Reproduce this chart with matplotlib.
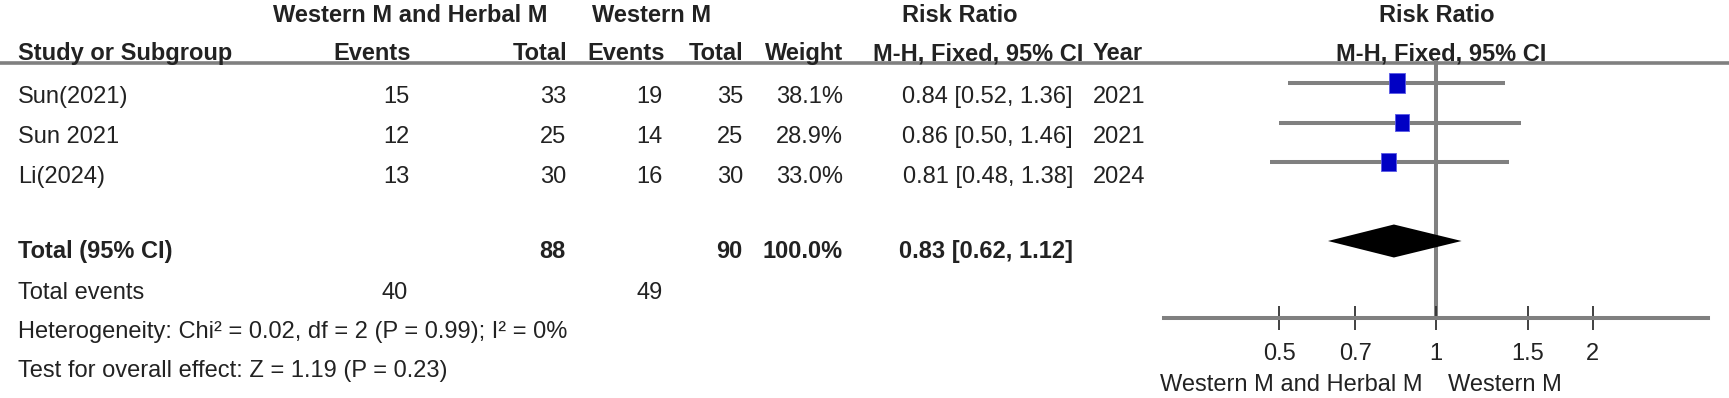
import matplotlib
matplotlib.use("Agg")
import matplotlib.pyplot as plt
from matplotlib.path import Path
from matplotlib.markers import MarkerStyle
import numpy as np

# study data
studies = ["Sun(2021)", "Sun 2021", "Li(2024)"]
exp_events = [15, 12, 13]
exp_total = [33, 25, 30]
ctl_events = [19, 14, 16]
ctl_total = [35, 25, 30]
weights = [38.1, 28.9, 33.0]
rr = [0.84, 0.86, 0.81]
ci_lo = [0.52, 0.50, 0.48]
ci_hi = [1.36, 1.46, 1.38]
years = [2021, 2021, 2024]

pooled = 0.83
pooled_lo = 0.62
pooled_hi = 1.12
tot_exp_events, tot_exp_total = 40, 88
tot_ctl_events, tot_ctl_total = 49, 90
het_text = "Heterogeneity: Chi² = 0.02, df = 2 (P = 0.99); I² = 0%"
effect_text = "Test for overall effect: Z = 1.19 (P = 0.23)"

ticks = [0.5, 0.7, 1, 1.5, 2]
tick_labels = ["0.5", "0.7", "1", "1.5", "2"]
favours = ["Western M and Herbal M", "Western M"]

W, H = 1729, 398
TXT = "#222222"
GRAY = "#808080"
FS = 17
plt.rcParams["font.family"] = ["Liberation Sans", "DejaVu Sans"]

fig = plt.figure(figsize=(W / 100, H / 100), dpi=100)

# text layer in pixel coordinates
ax_t = fig.add_axes([0, 0, 1, 1])
ax_t.set_xlim(0, W)
ax_t.set_ylim(H, 0)
ax_t.axis("off")


def txt(x, y, s, ha="left", bold=False):
    ax_t.text(x, y, s, ha=ha, va="baseline", fontsize=FS, color=TXT,
              fontweight="bold" if bold else "normal")


# headers
txt(410, 22, "Western M and Herbal M", ha="center", bold=True)
txt(652, 22, "Western M", ha="center", bold=True)
txt(960, 22, "Risk Ratio", ha="center", bold=True)
txt(1437, 22, "Risk Ratio", ha="center", bold=True)
txt(18, 60, "Study or Subgroup", bold=True)
txt(411, 60, "Events", ha="right", bold=True)
txt(567, 60, "Total", ha="right", bold=True)
txt(665, 60, "Events", ha="right", bold=True)
txt(743, 60, "Total", ha="right", bold=True)
txt(843, 60, "Weight", ha="right", bold=True)
txt(978, 60, "M-H, Fixed, 95% CI", ha="center", bold=True)
txt(1093, 60, "Year", bold=True)
txt(1441, 60, "M-H, Fixed, 95% CI", ha="center", bold=True)
ax_t.hlines(63, 0, W, color=GRAY, lw=2.6)

# study rows
for i, name in enumerate(studies):
    yb = 103 + 40 * i
    txt(18, yb, name)
    txt(410, yb, str(exp_events[i]), ha="right")
    txt(566, yb, str(exp_total[i]), ha="right")
    txt(663, yb, str(ctl_events[i]), ha="right")
    txt(743, yb, str(ctl_total[i]), ha="right")
    txt(843, yb, f"{weights[i]:.1f}%", ha="right")
    txt(1073, yb, f"{rr[i]:.2f} [{ci_lo[i]:.2f}, {ci_hi[i]:.2f}]", ha="right")
    txt(1093, yb, str(years[i]))

# totals
txt(18, 258, "Total (95% CI)", bold=True)
txt(566, 258, str(tot_exp_total), ha="right", bold=True)
txt(742, 258, str(tot_ctl_total), ha="right", bold=True)
txt(843, 258, f"{sum(weights):.1f}%", ha="right", bold=True)
txt(1073, 258, f"{pooled:.2f} [{pooled_lo:.2f}, {pooled_hi:.2f}]", ha="right", bold=True)
txt(18, 299, "Total events")
txt(408, 299, str(tot_exp_events), ha="right")
txt(663, 299, str(tot_ctl_events), ha="right")
txt(18, 338, het_text)
txt(18, 377, effect_text)

# forest panel
ax_f = fig.add_axes([1164 / W, (H - 318) / H, 544 / W, 258 / H])
ax_f.patch.set_alpha(0)
ax_f.set_xscale("log")
ax_f.set_xlim(0.3, 1 / 0.3)
ax_f.set_ylim(318, 60)
for s in ["top", "left", "right"]:
    ax_f.spines[s].set_visible(False)
ax_f.spines["bottom"].set_color(GRAY)
ax_f.spines["bottom"].set_linewidth(2.9)
ax_f.set_yticks([])
ax_f.set_xticks(ticks)
ax_f.set_xticklabels(tick_labels)
ax_f.xaxis.set_minor_locator(matplotlib.ticker.NullLocator())
ax_f.tick_params(axis="x", direction="inout", length=17, width=1.3, color="#333333",
                 labelsize=FS, labelcolor=TXT, pad=9.5)

ax_f.axvline(1, color=GRAY, lw=2.9, zorder=1)

row_y = [83 + 39.5 * i for i in range(len(studies))]
ax_f.hlines(row_y, ci_lo, ci_hi, color=GRAY, lw=2.9, zorder=2)

rect = Path([(-0.4, -0.5), (0.4, -0.5), (0.4, 0.5), (-0.4, 0.5), (-0.4, -0.5)],
            [Path.MOVETO, Path.LINETO, Path.LINETO, Path.LINETO, Path.CLOSEPOLY])
sizes = [(14.4 * np.sqrt(w / max(weights))) ** 2 for w in weights]
ax_f.scatter(rr, row_y, s=sizes, marker=MarkerStyle(rect), color="#0000c4",
             edgecolors="#5a5ae6", linewidths=0.6, zorder=3)

dy = 241
ax_f.fill([pooled_lo, pooled, pooled_hi, pooled], [dy, dy - 16.5, dy, dy + 16.5],
          color="black", lw=0, zorder=3)

txt(1423, 391, favours[0], ha="right")
txt(1448, 391, favours[1])

fig.savefig("out.png", dpi=100)
